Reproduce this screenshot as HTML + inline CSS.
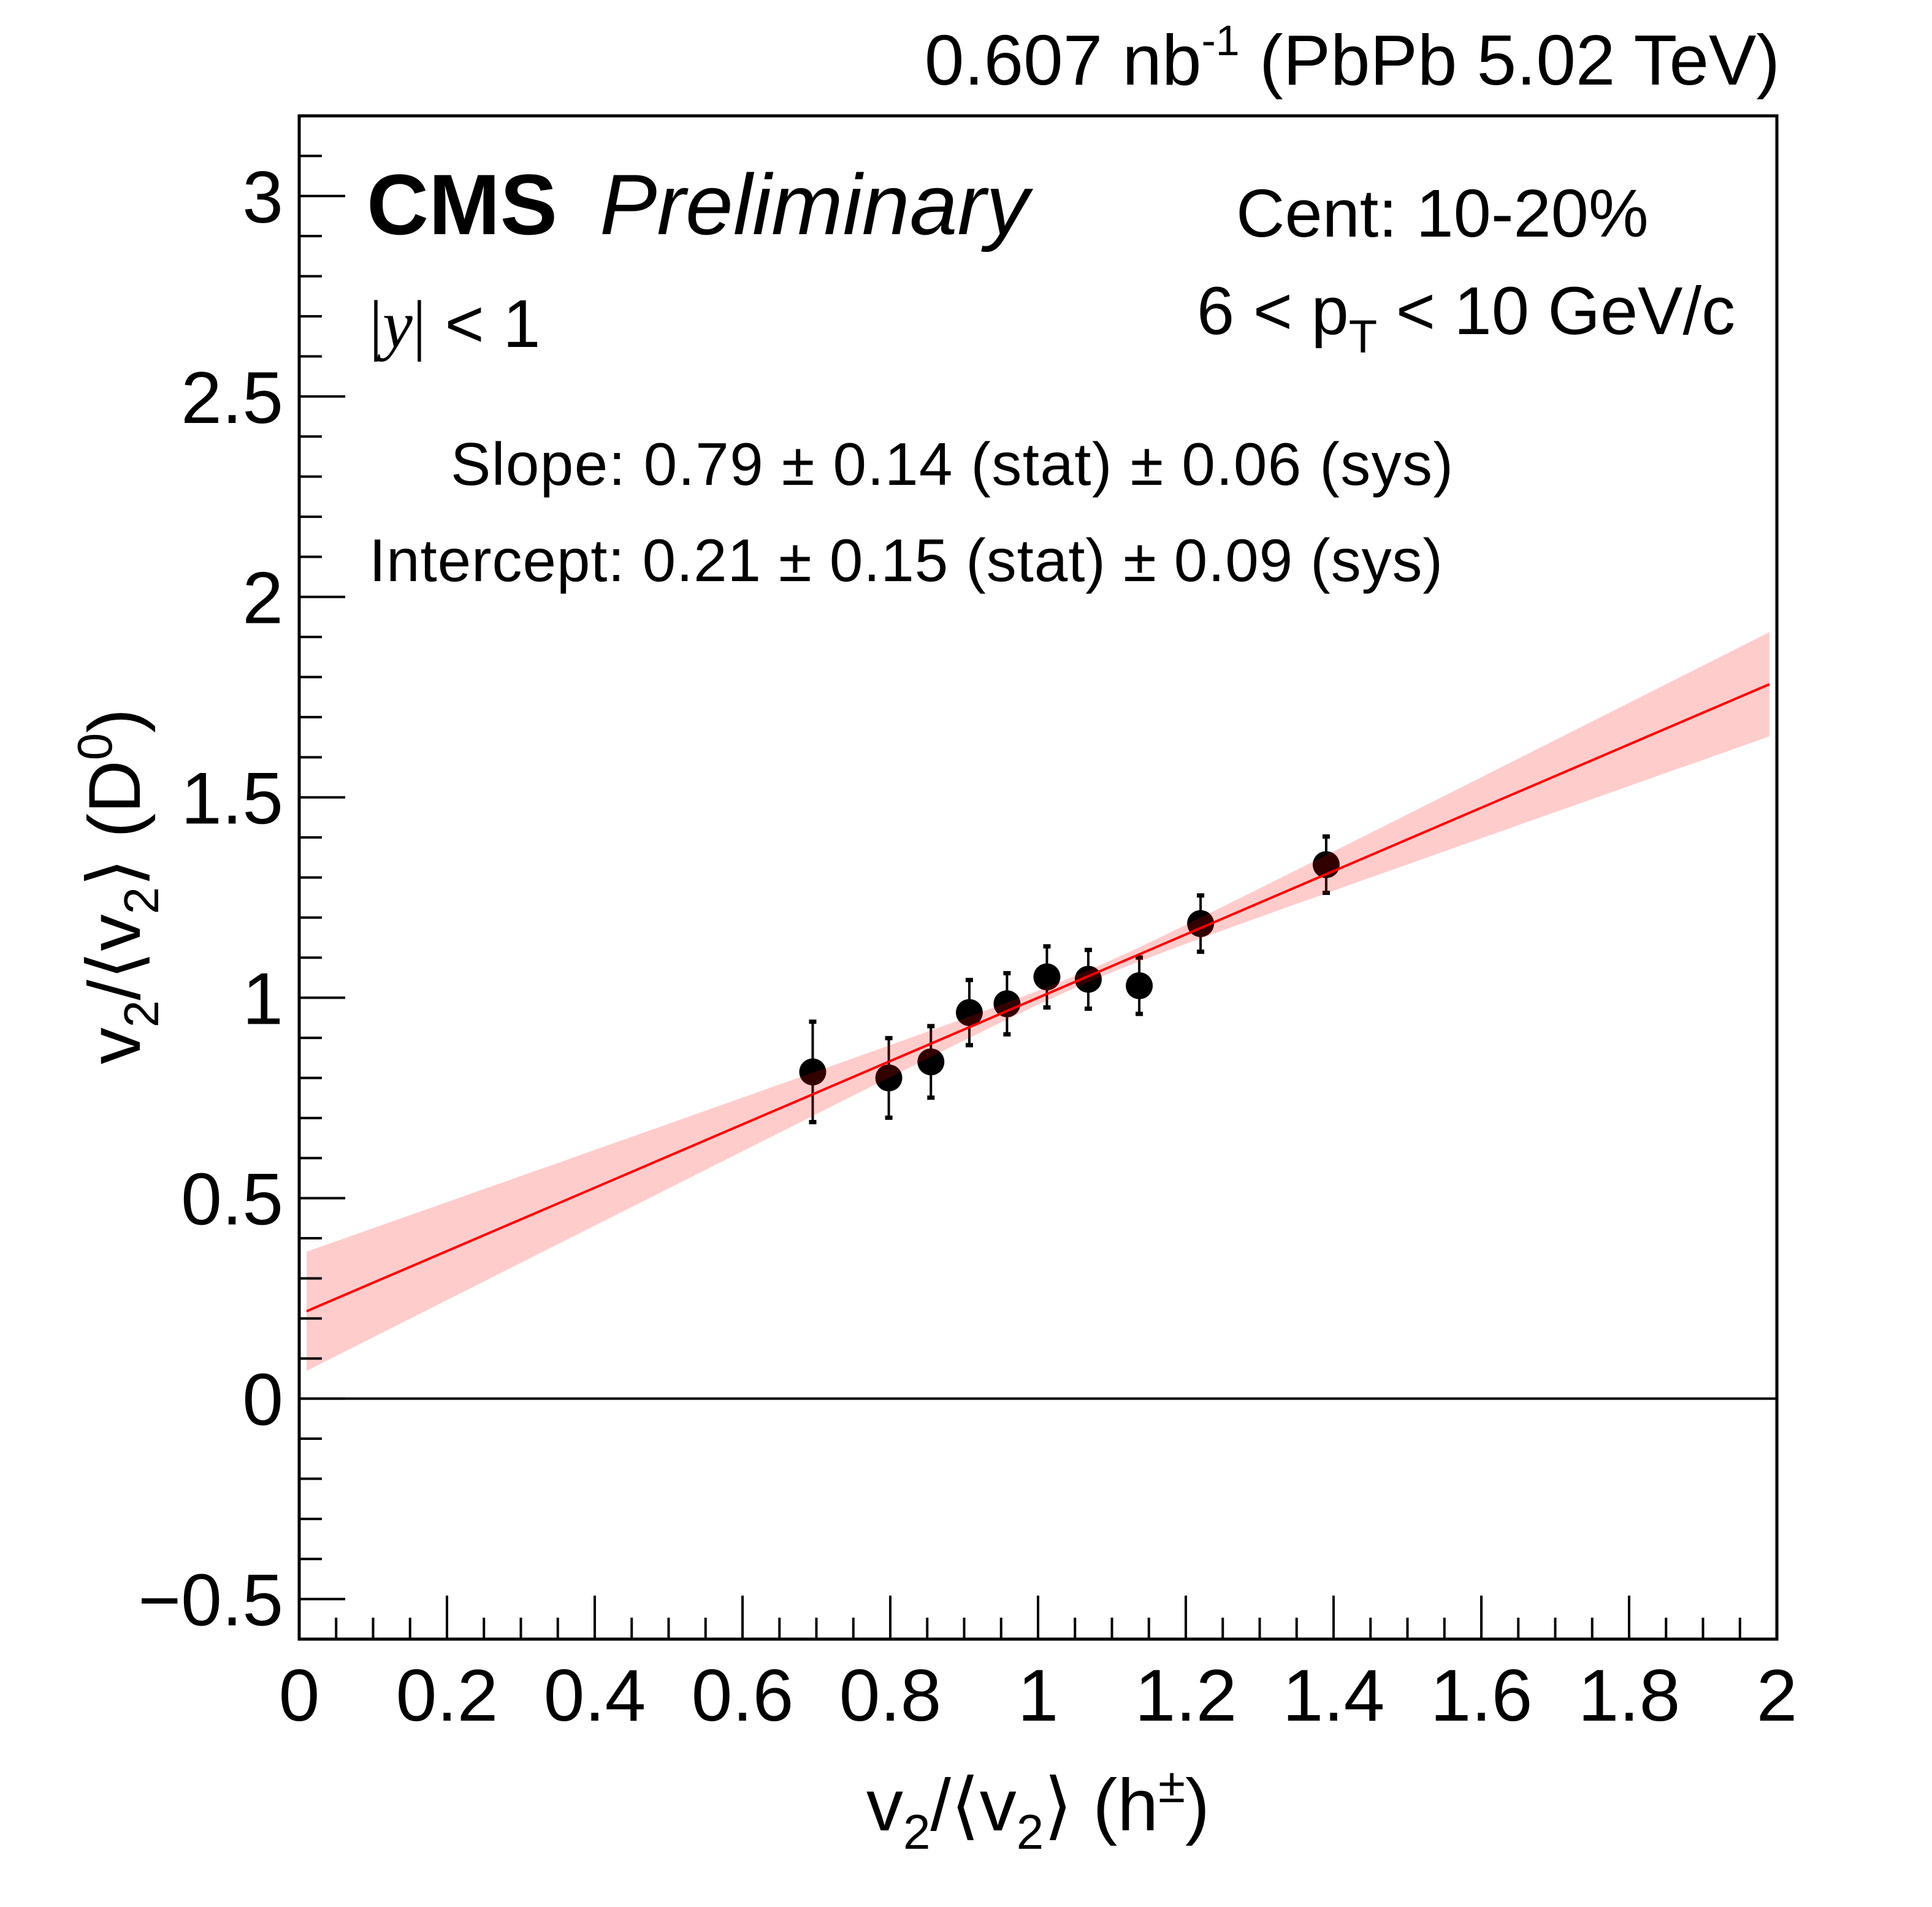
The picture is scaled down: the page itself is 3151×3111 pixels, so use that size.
<!DOCTYPE html>
<html><head><meta charset="utf-8"><style>
html,body{margin:0;padding:0;background:#fff;}
svg{display:block;}
text{font-family:"Liberation Sans",sans-serif;fill:#000;}
</style></head><body>
<svg id="chart" width="3151" height="3111" viewBox="0 0 3151 3111" xmlns="http://www.w3.org/2000/svg">
<rect x="0" y="0" width="3151" height="3111" fill="#fff"/>
<g id="points"></g>
<g id="band"></g>
<g id="fit"></g>
<g id="axes"></g>
<text x="2903" y="138" font-size="116" text-anchor="end">0.607 nb<tspan dy="-48" font-size="70">-1</tspan><tspan dy="48"> (PbPb 5.02 TeV)</tspan></text>
<text x="598" y="382" font-size="140" font-weight="bold">CMS</text>
<text x="978" y="382" font-size="140" font-style="italic">Preliminary</text>
<text x="2016" y="386" font-size="110">Cent: 10-20%</text>
<text x="1952" y="545" font-size="110">6 &lt; p<tspan dy="30" font-size="76">T</tspan><tspan dy="-30"> &lt; 10 GeV/c</tspan></text>
<text x="602" y="566" font-size="110"><tspan font-family="Liberation Serif, serif">|</tspan><tspan font-family="Liberation Serif, serif" font-style="italic">y</tspan><tspan font-family="Liberation Serif, serif">|</tspan> &lt; 1</text>
<text x="735" y="791" font-size="98" textLength="1635">Slope: 0.79 ± 0.14 (stat) ± 0.06 (sys)</text>
<text x="602" y="948" font-size="98" textLength="1751">Intercept: 0.21 ± 0.15 (stat) ± 0.09 (sys)</text>
<text x="1693" y="2986" font-size="120" text-anchor="middle">v<tspan dy="30" font-size="80">2</tspan><tspan dy="-30">/⟨v</tspan><tspan dy="30" font-size="80">2</tspan><tspan dy="-30">⟩ (h</tspan><tspan dy="-46" font-size="80">±</tspan><tspan dy="46">)</tspan></text>
<text transform="translate(228,1446) rotate(-90)" font-size="120" text-anchor="middle">v<tspan dy="30" font-size="80">2</tspan><tspan dy="-30">/⟨v</tspan><tspan dy="30" font-size="80">2</tspan><tspan dy="-30">⟩ (D</tspan><tspan dy="-46" font-size="80">0</tspan><tspan dy="46">)</tspan></text>
</svg>
<script>
const xVals=[0.695,0.798,0.855,0.907,0.958,1.012,1.068,1.137,1.220,1.390];
const yVals=[0.815,0.800,0.840,0.963,0.985,1.052,1.046,1.030,1.185,1.332];
const yErr=[0.126,0.100,0.090,0.082,0.077,0.077,0.074,0.071,0.071,0.071];
const fitParams=[0.21,0.79];        // intercept, slope
const fitErrs=[0.15,0.14,-0.0209]; // sigma intercept, sigma slope, covariance
const fitRange=[0.01,1.99];
const xTickLabels=["0","0.2","0.4","0.6","0.8","1","1.2","1.4","1.6","1.8","2"];
const yTickLabels=["−0.5","0","0.5","1","1.5","2","2.5","3"];

const X0=488,X1=2898,Y0=2674,Y1=189,XMIN=0,XMAX=2,YMIN=-0.6,YMAX=3.2;
const sx=v=>X0+(v-XMIN)/(XMAX-XMIN)*(X1-X0);
const sy=v=>Y0-(v-YMIN)/(YMAX-YMIN)*(Y0-Y1);
const NS="http://www.w3.org/2000/svg";
function mk(t,a,p){const e=document.createElementNS(NS,t);for(const k in a)e.setAttribute(k,a[k]);p.appendChild(e);return e;}

const band=document.getElementById('band');
let up=[],lo=[];
for(let i=0;i<=100;i++){const x=fitRange[0]+(fitRange[1]-fitRange[0])*i/100;
 const y=fitParams[0]+fitParams[1]*x;
 const w=Math.sqrt(Math.max(0,fitErrs[0]**2+2*fitErrs[2]*x+fitErrs[1]**2*x*x));
 up.push(sx(x).toFixed(1)+','+sy(y+w).toFixed(1));lo.unshift(sx(x).toFixed(1)+','+sy(y-w).toFixed(1));}
const bp=mk('polygon',{points:up.concat(lo).join(' '),fill:'#ff0000','fill-opacity':0.2,stroke:'none'},band);



const fit=document.getElementById('fit');
const fl=mk('line',{x1:sx(fitRange[0]),y1:sy(fitParams[0]+fitParams[1]*fitRange[0]),x2:sx(fitRange[1]),y2:sy(fitParams[0]+fitParams[1]*fitRange[1]),stroke:'#ff0000','stroke-width':4},fit);



const pts=document.getElementById('points');
for(let i=0;i<xVals.length;i++){
 const g=mk('g',{},pts);
 
 
 const cx=sx(xVals[i]),yt=sy(yVals[i]+yErr[i]),yb=sy(yVals[i]-yErr[i]);
 mk('line',{x1:cx,y1:yt,x2:cx,y2:yb,stroke:'#000','stroke-width':4},g);
 mk('rect',{x:cx-6,y:yt-3,width:12,height:7,fill:'#000'},g);
 mk('rect',{x:cx-6,y:yb-4,width:12,height:7,fill:'#000'},g);
 mk('circle',{cx:cx,cy:sy(yVals[i]),r:22,fill:'#000'},g);
}

const ax=document.getElementById('axes');
const fr=mk('rect',{x:X0,y:Y1,width:X1-X0,height:Y0-Y1,fill:'none',stroke:'#000','stroke-width':5},ax);


const zl=mk('line',{x1:X0,y1:sy(0),x2:X1,y2:sy(0),stroke:'#000','stroke-width':4},ax);


for(let k=0;k<=40;k++){const v=k*0.05;const L=(k%4===0)?71:35;
 mk('line',{x1:sx(v),y1:Y0,x2:sx(v),y2:Y0-L,stroke:'#000','stroke-width':4},ax);}
xTickLabels.forEach((s,i)=>{const t=mk('text',{x:sx(i*0.2),y:2807,'font-size':120,'text-anchor':'middle'},ax);t.textContent=s;
 
 });
for(let k=-6;k<=32;k++){const v=k*0.1;const L=(k%5===0)?75:37;
 mk('line',{x1:X0,y1:sy(v),x2:X0+L,y2:sy(v),stroke:'#000','stroke-width':4},ax);}
yTickLabels.forEach((s,i)=>{const v=-0.5+i*0.5;const t=mk('text',{x:462,y:sy(v)+43,'font-size':120,'text-anchor':'end'},ax);t.textContent=s;
 
 });
</script>
</body></html>
